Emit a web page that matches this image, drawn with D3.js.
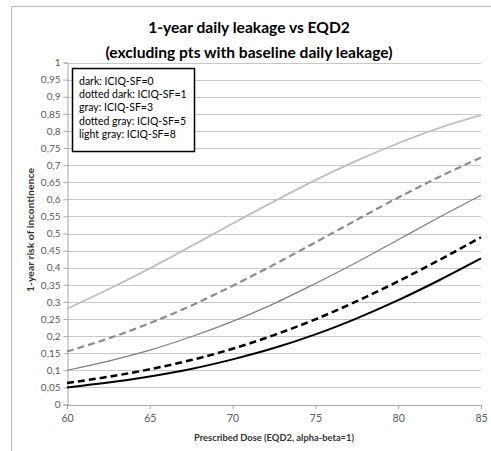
<!DOCTYPE html>
<html>
<head>
<meta charset="utf-8">
<script src="https://cdn.jsdelivr.net/npm/d3@7"></script>
<style>
  body { margin: 0; background: #fff; }
  svg { display: block; font-family: Lato, "Liberation Sans", sans-serif; }
</style>
</head>
<body>
<svg id="chart" width="491" height="451"></svg>
<script>
// dose values on x (EQD2)
let doses = [60, 62.5, 65, 67.5, 70, 72.5, 75, 77.5, 80, 82.5, 85];

// risk, one list per ICIQ-SF curve
let iciq0 = [0.050, 0.064, 0.082, 0.104, 0.132, 0.165, 0.205, 0.252, 0.305, 0.364, 0.427];
let iciq1 = [0.063, 0.081, 0.103, 0.130, 0.163, 0.203, 0.249, 0.302, 0.360, 0.423, 0.489];
let iciq3 = [0.100, 0.127, 0.159, 0.198, 0.243, 0.295, 0.354, 0.416, 0.482, 0.548, 0.612];
let iciq5 = [0.155, 0.193, 0.238, 0.289, 0.347, 0.409, 0.474, 0.540, 0.605, 0.666, 0.722];
let iciq8 = [0.280, 0.337, 0.398, 0.463, 0.529, 0.594, 0.656, 0.713, 0.764, 0.809, 0.846];

let xTicks = [60, 65, 70, 75, 80, 85];
let yTicks = [0, 0.05, 0.1, 0.15, 0.2, 0.25, 0.3, 0.35, 0.4, 0.45, 0.5, 0.55, 0.6, 0.65, 0.7, 0.75, 0.8, 0.85, 0.9, 0.95, 1];
let yTickLabels = ["0", "0,05", "0,1", "0,15", "0,2", "0,25", "0,3", "0,35", "0,4", "0,45", "0,5", "0,55", "0,6", "0,65", "0,7", "0,75", "0,8", "0,85", "0,9", "0,95", "1"];

let legendLines = ["dark: ICIQ-SF=0", "dotted dark: ICIQ-SF=1", "gray: ICIQ-SF=3", "dotted gray: ICIQ-SF=5", "light gray: ICIQ-SF=8"];

let series = [
  { vals: iciq8, color: "#bfbfbf", w: 1.8, dash: null },
  { vals: iciq5, color: "#8c8c8c", w: 2.2, dash: "7,4" },
  { vals: iciq3, color: "#7f7f7f", w: 1.2, dash: null },
  { vals: iciq1, color: "#000000", w: 2.5, dash: "7,4" },
  { vals: iciq0, color: "#000000", w: 2, dash: null }
];

let svg = d3.select("#chart");

// chart frame (only left and top edges are visible)
svg.append("path")
  .attr("d", "M11.5,451 L11.5,6.5 L491,6.5")
  .attr("fill", "none")
  .attr("stroke", "#bcbcbc")
  .attr("stroke-width", 1);

let x = d3.scaleLinear().domain([60, 85]).range([67, 481]);
let y = d3.scaleLinear().domain([0, 1]).range([404.5, 62.5]);

// gridlines
svg.append("g")
  .selectAll("line")
  .data(yTicks.filter(d => d > 0))
  .enter()
  .append("line")
  .attr("x1", x(60))
  .attr("x2", x(85))
  .attr("y1", d => Math.round(y(d)) + 0.5)
  .attr("y2", d => Math.round(y(d)) + 0.5)
  .attr("stroke", "#c8c8c8")
  .attr("stroke-width", 1);

// y axis
let yAxis = d3.axisLeft(y)
  .tickValues(yTicks)
  .tickFormat((d, i) => yTickLabels[i])
  .tickSize(4)
  .tickPadding(3);

let gy = svg.append("g")
  .attr("transform", "translate(" + (x(60) + 0.5) + ",0)")
  .call(yAxis);
gy.select(".domain").attr("stroke", "#a6a6a6");
gy.selectAll(".tick line").attr("stroke", "#a6a6a6");
gy.selectAll(".tick text")
  .attr("fill", "#595959")
  .style("font-size", "10px")
  .style("font-family", "Lato, 'Liberation Sans', sans-serif");

// x axis
let xAxis = d3.axisBottom(x)
  .tickValues(xTicks)
  .tickSize(4)
  .tickPadding(6);

let gx = svg.append("g")
  .attr("transform", "translate(0," + (y(0) + 0.5) + ")")
  .call(xAxis);
gx.select(".domain").attr("stroke", "#a6a6a6");
gx.selectAll(".tick line").attr("stroke", "#a6a6a6");
gx.selectAll(".tick text")
  .attr("fill", "#595959")
  .style("font-size", "10.5px")
  .style("font-family", "Lato, 'Liberation Sans', sans-serif");

// curves
let line = d3.line()
  .x((d, i) => x(doses[i]))
  .y(d => y(d))
  .curve(d3.curveMonotoneX);

series.forEach(s => {
  svg.append("path")
    .datum(s.vals)
    .attr("d", line)
    .attr("fill", "none")
    .attr("stroke", s.color)
    .attr("stroke-width", s.w)
    .attr("stroke-dasharray", s.dash);
});

// title
let title = svg.append("text")
  .attr("text-anchor", "middle")
  .attr("fill", "#000")
  .style("font-weight", "bold")
  .style("font-size", "15.6px");
title.append("tspan").attr("x", 249).attr("y", 33).text("1-year daily leakage vs EQD2");
title.append("tspan").attr("x", 249).attr("y", 58).text("(excluding pts with baseline daily leakage)");

// axis titles
svg.append("text")
  .attr("x", 274)
  .attr("y", 441)
  .attr("text-anchor", "middle")
  .attr("textLength", 160)
  .attr("lengthAdjust", "spacingAndGlyphs")
  .style("font-weight", "bold")
  .style("font-size", "9.5px")
  .attr("fill", "#333")
  .text("Prescribed Dose (EQD2, alpha-beta=1)");

svg.append("text")
  .attr("transform", "translate(34,230) rotate(-90)")
  .attr("text-anchor", "middle")
  .attr("textLength", 124)
  .attr("lengthAdjust", "spacingAndGlyphs")
  .style("font-weight", "bold")
  .style("font-size", "9.5px")
  .attr("fill", "#333")
  .text("1-year risk of  incontinence");

// legend box
let lg = svg.append("g");
lg.append("rect")
  .attr("x", 72.5)
  .attr("y", 68.5)
  .attr("width", 122)
  .attr("height", 83)
  .attr("fill", "#fff")
  .attr("stroke", "#000")
  .attr("stroke-width", 1.5);

lg.selectAll("text")
  .data(legendLines)
  .enter()
  .append("text")
  .attr("x", 79)
  .attr("y", (d, i) => 84.5 + i * 13.4)
  .style("font-size", "10.5px")
  .attr("fill", "#000")
  .text(d => d);
</script>
</body>
</html>
